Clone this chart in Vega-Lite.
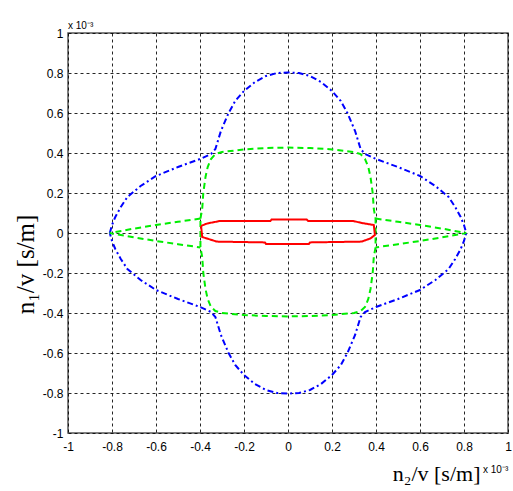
{
  "$schema": "https://vega.github.io/schema/vega-lite/v6.json",
  "autosize": {"type": "none"},
  "width": 440,
  "height": 400,
  "padding": {"left": 68, "top": 33, "right": 5, "bottom": 58},
  "background": "white",
  "title": {"text": "x 10⁻³", "anchor": "start", "frame": "group", "font": "Liberation Sans", "fontSize": 10, "fontWeight": "normal", "color": "black", "offset": -12, "baseline": "alphabetic"},
  "config": {
    "view": {"stroke": "#555555", "strokeWidth": 1.5}
  },
  "datasets": {
    "curves": [
      {"curve": "blue", "seg": "b", "ord": 1, "x": -0.81, "y": 0},
      {"curve": "blue", "seg": "b", "ord": 2, "x": -0.80, "y": 0.04},
      {"curve": "blue", "seg": "b", "ord": 3, "x": -0.785, "y": 0.08},
      {"curve": "blue", "seg": "b", "ord": 4, "x": -0.76, "y": 0.13},
      {"curve": "blue", "seg": "b", "ord": 5, "x": -0.73, "y": 0.18},
      {"curve": "blue", "seg": "b", "ord": 6, "x": -0.67, "y": 0.235},
      {"curve": "blue", "seg": "b", "ord": 7, "x": -0.6, "y": 0.285},
      {"curve": "blue", "seg": "b", "ord": 8, "x": -0.5, "y": 0.33},
      {"curve": "blue", "seg": "b", "ord": 9, "x": -0.4, "y": 0.37},
      {"curve": "blue", "seg": "b", "ord": 10, "x": -0.35, "y": 0.395},
      {"curve": "blue", "seg": "b", "ord": 11, "x": -0.33, "y": 0.42},
      {"curve": "blue", "seg": "b", "ord": 12, "x": -0.305, "y": 0.51},
      {"curve": "blue", "seg": "b", "ord": 13, "x": -0.27, "y": 0.6},
      {"curve": "blue", "seg": "b", "ord": 14, "x": -0.24, "y": 0.66},
      {"curve": "blue", "seg": "b", "ord": 15, "x": -0.2, "y": 0.71},
      {"curve": "blue", "seg": "b", "ord": 16, "x": -0.15, "y": 0.755},
      {"curve": "blue", "seg": "b", "ord": 17, "x": -0.1, "y": 0.785},
      {"curve": "blue", "seg": "b", "ord": 18, "x": -0.05, "y": 0.8},
      {"curve": "blue", "seg": "b", "ord": 19, "x": 0, "y": 0.803},
      {"curve": "blue", "seg": "b", "ord": 20, "x": 0.05, "y": 0.8},
      {"curve": "blue", "seg": "b", "ord": 21, "x": 0.1, "y": 0.785},
      {"curve": "blue", "seg": "b", "ord": 22, "x": 0.15, "y": 0.755},
      {"curve": "blue", "seg": "b", "ord": 23, "x": 0.2, "y": 0.71},
      {"curve": "blue", "seg": "b", "ord": 24, "x": 0.24, "y": 0.66},
      {"curve": "blue", "seg": "b", "ord": 25, "x": 0.27, "y": 0.6},
      {"curve": "blue", "seg": "b", "ord": 26, "x": 0.305, "y": 0.51},
      {"curve": "blue", "seg": "b", "ord": 27, "x": 0.33, "y": 0.42},
      {"curve": "blue", "seg": "b", "ord": 28, "x": 0.35, "y": 0.395},
      {"curve": "blue", "seg": "b", "ord": 29, "x": 0.4, "y": 0.37},
      {"curve": "blue", "seg": "b", "ord": 30, "x": 0.5, "y": 0.33},
      {"curve": "blue", "seg": "b", "ord": 31, "x": 0.6, "y": 0.285},
      {"curve": "blue", "seg": "b", "ord": 32, "x": 0.67, "y": 0.235},
      {"curve": "blue", "seg": "b", "ord": 33, "x": 0.73, "y": 0.18},
      {"curve": "blue", "seg": "b", "ord": 34, "x": 0.76, "y": 0.13},
      {"curve": "blue", "seg": "b", "ord": 35, "x": 0.785, "y": 0.08},
      {"curve": "blue", "seg": "b", "ord": 36, "x": 0.80, "y": 0.04},
      {"curve": "blue", "seg": "b", "ord": 37, "x": 0.81, "y": 0},
      {"curve": "blue", "seg": "b", "ord": 38, "x": 0.80, "y": -0.04},
      {"curve": "blue", "seg": "b", "ord": 39, "x": 0.785, "y": -0.08},
      {"curve": "blue", "seg": "b", "ord": 40, "x": 0.76, "y": -0.13},
      {"curve": "blue", "seg": "b", "ord": 41, "x": 0.73, "y": -0.18},
      {"curve": "blue", "seg": "b", "ord": 42, "x": 0.67, "y": -0.235},
      {"curve": "blue", "seg": "b", "ord": 43, "x": 0.6, "y": -0.285},
      {"curve": "blue", "seg": "b", "ord": 44, "x": 0.5, "y": -0.33},
      {"curve": "blue", "seg": "b", "ord": 45, "x": 0.4, "y": -0.37},
      {"curve": "blue", "seg": "b", "ord": 46, "x": 0.35, "y": -0.395},
      {"curve": "blue", "seg": "b", "ord": 47, "x": 0.33, "y": -0.42},
      {"curve": "blue", "seg": "b", "ord": 48, "x": 0.305, "y": -0.51},
      {"curve": "blue", "seg": "b", "ord": 49, "x": 0.27, "y": -0.6},
      {"curve": "blue", "seg": "b", "ord": 50, "x": 0.24, "y": -0.66},
      {"curve": "blue", "seg": "b", "ord": 51, "x": 0.2, "y": -0.71},
      {"curve": "blue", "seg": "b", "ord": 52, "x": 0.15, "y": -0.755},
      {"curve": "blue", "seg": "b", "ord": 53, "x": 0.1, "y": -0.785},
      {"curve": "blue", "seg": "b", "ord": 54, "x": 0.05, "y": -0.8},
      {"curve": "blue", "seg": "b", "ord": 55, "x": 0, "y": -0.803},
      {"curve": "blue", "seg": "b", "ord": 56, "x": -0.05, "y": -0.8},
      {"curve": "blue", "seg": "b", "ord": 57, "x": -0.1, "y": -0.785},
      {"curve": "blue", "seg": "b", "ord": 58, "x": -0.15, "y": -0.755},
      {"curve": "blue", "seg": "b", "ord": 59, "x": -0.2, "y": -0.71},
      {"curve": "blue", "seg": "b", "ord": 60, "x": -0.24, "y": -0.66},
      {"curve": "blue", "seg": "b", "ord": 61, "x": -0.27, "y": -0.6},
      {"curve": "blue", "seg": "b", "ord": 62, "x": -0.305, "y": -0.51},
      {"curve": "blue", "seg": "b", "ord": 63, "x": -0.33, "y": -0.42},
      {"curve": "blue", "seg": "b", "ord": 64, "x": -0.35, "y": -0.395},
      {"curve": "blue", "seg": "b", "ord": 65, "x": -0.4, "y": -0.37},
      {"curve": "blue", "seg": "b", "ord": 66, "x": -0.5, "y": -0.33},
      {"curve": "blue", "seg": "b", "ord": 67, "x": -0.6, "y": -0.285},
      {"curve": "blue", "seg": "b", "ord": 68, "x": -0.67, "y": -0.235},
      {"curve": "blue", "seg": "b", "ord": 69, "x": -0.73, "y": -0.18},
      {"curve": "blue", "seg": "b", "ord": 70, "x": -0.76, "y": -0.13},
      {"curve": "blue", "seg": "b", "ord": 71, "x": -0.785, "y": -0.08},
      {"curve": "blue", "seg": "b", "ord": 72, "x": -0.80, "y": -0.04},
      {"curve": "blue", "seg": "b", "ord": 73, "x": -0.81, "y": 0},

      {"curve": "green", "seg": "g1", "ord": 1, "x": -0.398, "y": 0.072},
      {"curve": "green", "seg": "g1", "ord": 2, "x": -0.39, "y": 0.12},
      {"curve": "green", "seg": "g1", "ord": 3, "x": -0.385, "y": 0.2},
      {"curve": "green", "seg": "g1", "ord": 4, "x": -0.375, "y": 0.28},
      {"curve": "green", "seg": "g1", "ord": 5, "x": -0.365, "y": 0.33},
      {"curve": "green", "seg": "g1", "ord": 6, "x": -0.35, "y": 0.37},
      {"curve": "green", "seg": "g1", "ord": 7, "x": -0.33, "y": 0.395},
      {"curve": "green", "seg": "g1", "ord": 8, "x": -0.3, "y": 0.405},
      {"curve": "green", "seg": "g1", "ord": 9, "x": -0.2, "y": 0.418},
      {"curve": "green", "seg": "g1", "ord": 10, "x": -0.1, "y": 0.425},
      {"curve": "green", "seg": "g1", "ord": 11, "x": 0, "y": 0.427},
      {"curve": "green", "seg": "g1", "ord": 12, "x": 0.1, "y": 0.425},
      {"curve": "green", "seg": "g1", "ord": 13, "x": 0.2, "y": 0.418},
      {"curve": "green", "seg": "g1", "ord": 14, "x": 0.3, "y": 0.405},
      {"curve": "green", "seg": "g1", "ord": 15, "x": 0.33, "y": 0.395},
      {"curve": "green", "seg": "g1", "ord": 16, "x": 0.35, "y": 0.37},
      {"curve": "green", "seg": "g1", "ord": 17, "x": 0.365, "y": 0.33},
      {"curve": "green", "seg": "g1", "ord": 18, "x": 0.375, "y": 0.28},
      {"curve": "green", "seg": "g1", "ord": 19, "x": 0.385, "y": 0.2},
      {"curve": "green", "seg": "g1", "ord": 20, "x": 0.39, "y": 0.12},
      {"curve": "green", "seg": "g1", "ord": 21, "x": 0.398, "y": 0.072},
      {"curve": "green", "seg": "g1", "ord": 22, "x": 0.398, "y": -0.072},
      {"curve": "green", "seg": "g1", "ord": 23, "x": 0.39, "y": -0.12},
      {"curve": "green", "seg": "g1", "ord": 24, "x": 0.385, "y": -0.2},
      {"curve": "green", "seg": "g1", "ord": 25, "x": 0.375, "y": -0.28},
      {"curve": "green", "seg": "g1", "ord": 26, "x": 0.365, "y": -0.33},
      {"curve": "green", "seg": "g1", "ord": 27, "x": 0.35, "y": -0.37},
      {"curve": "green", "seg": "g1", "ord": 28, "x": 0.33, "y": -0.39},
      {"curve": "green", "seg": "g1", "ord": 29, "x": 0.3, "y": -0.4},
      {"curve": "green", "seg": "g1", "ord": 30, "x": 0.2, "y": -0.41},
      {"curve": "green", "seg": "g1", "ord": 31, "x": 0.1, "y": -0.415},
      {"curve": "green", "seg": "g1", "ord": 32, "x": 0, "y": -0.417},
      {"curve": "green", "seg": "g1", "ord": 33, "x": -0.1, "y": -0.415},
      {"curve": "green", "seg": "g1", "ord": 34, "x": -0.2, "y": -0.41},
      {"curve": "green", "seg": "g1", "ord": 35, "x": -0.3, "y": -0.4},
      {"curve": "green", "seg": "g1", "ord": 36, "x": -0.33, "y": -0.39},
      {"curve": "green", "seg": "g1", "ord": 37, "x": -0.35, "y": -0.37},
      {"curve": "green", "seg": "g1", "ord": 38, "x": -0.365, "y": -0.33},
      {"curve": "green", "seg": "g1", "ord": 39, "x": -0.375, "y": -0.28},
      {"curve": "green", "seg": "g1", "ord": 40, "x": -0.385, "y": -0.2},
      {"curve": "green", "seg": "g1", "ord": 41, "x": -0.39, "y": -0.12},
      {"curve": "green", "seg": "g1", "ord": 42, "x": -0.398, "y": -0.072},
      {"curve": "green", "seg": "g1", "ord": 43, "x": -0.398, "y": 0.072},

      {"curve": "green", "seg": "g2", "ord": 1, "x": -0.398, "y": 0.072},
      {"curve": "green", "seg": "g2", "ord": 2, "x": -0.5, "y": 0.056},
      {"curve": "green", "seg": "g2", "ord": 3, "x": -0.6, "y": 0.04},
      {"curve": "green", "seg": "g2", "ord": 4, "x": -0.7, "y": 0.022},
      {"curve": "green", "seg": "g2", "ord": 5, "x": -0.81, "y": 0},
      {"curve": "green", "seg": "g2", "ord": 6, "x": -0.7, "y": -0.022},
      {"curve": "green", "seg": "g2", "ord": 7, "x": -0.6, "y": -0.04},
      {"curve": "green", "seg": "g2", "ord": 8, "x": -0.5, "y": -0.056},
      {"curve": "green", "seg": "g2", "ord": 9, "x": -0.398, "y": -0.072},

      {"curve": "green", "seg": "g3", "ord": 1, "x": 0.398, "y": 0.072},
      {"curve": "green", "seg": "g3", "ord": 2, "x": 0.5, "y": 0.056},
      {"curve": "green", "seg": "g3", "ord": 3, "x": 0.6, "y": 0.04},
      {"curve": "green", "seg": "g3", "ord": 4, "x": 0.7, "y": 0.022},
      {"curve": "green", "seg": "g3", "ord": 5, "x": 0.81, "y": 0},
      {"curve": "green", "seg": "g3", "ord": 6, "x": 0.7, "y": -0.022},
      {"curve": "green", "seg": "g3", "ord": 7, "x": 0.6, "y": -0.04},
      {"curve": "green", "seg": "g3", "ord": 8, "x": 0.5, "y": -0.056},
      {"curve": "green", "seg": "g3", "ord": 9, "x": 0.398, "y": -0.072},

      {"curve": "red", "seg": "r", "ord": 1, "x": -0.395, "y": 0.035},
      {"curve": "red", "seg": "r", "ord": 2, "x": -0.37, "y": 0.047},
      {"curve": "red", "seg": "r", "ord": 3, "x": -0.31, "y": 0.06},
      {"curve": "red", "seg": "r", "ord": 4, "x": -0.08, "y": 0.06},
      {"curve": "red", "seg": "r", "ord": 5, "x": -0.075, "y": 0.067},
      {"curve": "red", "seg": "r", "ord": 6, "x": 0.085, "y": 0.067},
      {"curve": "red", "seg": "r", "ord": 7, "x": 0.092, "y": 0.06},
      {"curve": "red", "seg": "r", "ord": 8, "x": 0.297, "y": 0.06},
      {"curve": "red", "seg": "r", "ord": 9, "x": 0.335, "y": 0.05},
      {"curve": "red", "seg": "r", "ord": 10, "x": 0.39, "y": 0.04},
      {"curve": "red", "seg": "r", "ord": 11, "x": 0.395, "y": -0.01},
      {"curve": "red", "seg": "r", "ord": 12, "x": 0.375, "y": -0.027},
      {"curve": "red", "seg": "r", "ord": 13, "x": 0.335, "y": -0.043},
      {"curve": "red", "seg": "r", "ord": 14, "x": 0.1, "y": -0.047},
      {"curve": "red", "seg": "r", "ord": 15, "x": 0.095, "y": -0.055},
      {"curve": "red", "seg": "r", "ord": 16, "x": -0.1, "y": -0.055},
      {"curve": "red", "seg": "r", "ord": 17, "x": -0.105, "y": -0.047},
      {"curve": "red", "seg": "r", "ord": 18, "x": -0.324, "y": -0.043},
      {"curve": "red", "seg": "r", "ord": 19, "x": -0.39, "y": -0.02},
      {"curve": "red", "seg": "r", "ord": 20, "x": -0.395, "y": 0.035}
    ],
    "note": [{"label": "x 10⁻³", "x": 1, "y": -1}]
  },
  "layer": [
    {
      "data": {"name": "curves"},
      "mark": {"type": "line", "strokeWidth": 2, "interpolate": "linear"},
      "encoding": {
        "x": {"field": "x", "type": "quantitative", "scale": {"domain": [-1, 1], "nice": false, "zero": false},
              "axis": {"values": [-1, -0.8, -0.6, -0.4, -0.2, 0, 0.2, 0.4, 0.6, 0.8, 1], "tickCount": 30, "labelExpr": "toString(datum.value)",
                       "labelFont": "Liberation Sans", "labelFontSize": 12, "labelColor": "black", "labelOverlap": false, "labelFlush": false,
                       "grid": true, "gridColor": "black", "gridDash": [3, 3], "gridWidth": 1, "gridOpacity": 0.85,
                       "domain": false, "ticks": false,
                       "labelPadding": 8,
                       "titleFont": "Liberation Serif", "titleFontSize": 22, "titleFontWeight": "normal", "titleColor": "black",
                       "title": "n₂/v [s/m]", "titleAnchor": "end", "titleX": 412, "titleY": 47, "titleAlign": "right", "titleBaseline": "alphabetic"}},
        "y": {"field": "y", "type": "quantitative", "scale": {"domain": [-1, 1], "nice": false, "zero": false},
              "axis": {"values": [-1, -0.8, -0.6, -0.4, -0.2, 0, 0.2, 0.4, 0.6, 0.8, 1], "tickCount": 30, "labelExpr": "toString(datum.value)",
                       "labelFont": "Liberation Sans", "labelFontSize": 12, "labelColor": "black", "labelOverlap": false, "labelFlush": false,
                       "grid": true, "gridColor": "black", "gridDash": [3, 3], "gridWidth": 1, "gridOpacity": 0.85,
                       "domain": false, "ticks": false,
                       "labelPadding": 5,
                       "titleFont": "Liberation Serif", "titleFontSize": 25, "titleFontWeight": "normal", "titleColor": "black",
                       "title": "n₁/v [s/m]", "titleX": -35, "titleY": 231, "titleAngle": -90, "titleAlign": "center", "titleBaseline": "alphabetic"}},
        "color": {"field": "curve", "type": "nominal", "scale": {"domain": ["blue", "green", "red"], "range": ["#0000ff", "#00ee00", "#ff0000"]}, "legend": null},
        "strokeDash": {"field": "curve", "type": "nominal", "scale": {"domain": ["blue", "green", "red"], "range": [[6, 3, 2, 3], [6, 4], [1, 0]]}, "legend": null},
        "detail": {"field": "seg"},
        "order": {"field": "ord", "type": "quantitative"}
      }
    },
    {
      "data": {"name": "note"},
      "mark": {"type": "text", "align": "left", "baseline": "alphabetic", "dx": -25, "dy": 40, "font": "Liberation Sans", "fontSize": 10, "color": "black"},
      "encoding": {
        "x": {"field": "x", "type": "quantitative"},
        "y": {"field": "y", "type": "quantitative"},
        "text": {"field": "label"}
      }
    }
  ]
}
